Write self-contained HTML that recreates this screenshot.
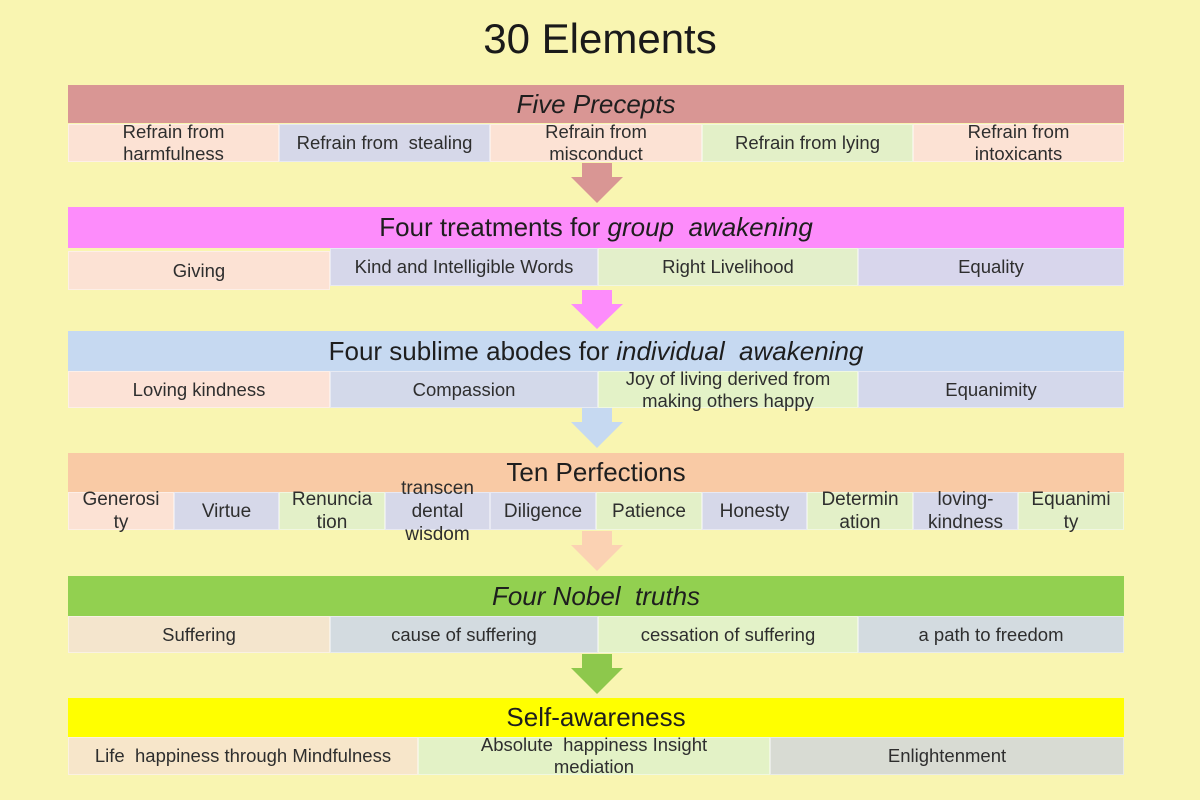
<!DOCTYPE html>
<html>
<head>
<meta charset="utf-8">
<style>
  html,body{margin:0;padding:0;}
  body{width:1200px;height:800px;background:#f9f5b1;position:relative;overflow:hidden;font-family:"Liberation Sans",sans-serif;}
  .t{position:absolute;left:0;width:1200px;top:15px;text-align:center;font-size:42px;color:#1a1a1a;line-height:48px;}
  .h{position:absolute;left:68px;width:1056px;display:flex;align-items:center;justify-content:center;font-size:26px;color:#1e1e1e;white-space:nowrap;}
  .c{position:absolute;display:flex;align-items:center;justify-content:center;text-align:center;font-size:18.5px;line-height:22px;color:#2e2e2e;white-space:nowrap;box-sizing:border-box;border:1px solid rgba(255,255,255,0.45);}
  .c10{font-size:19px;line-height:23px;}
  i{font-style:italic;}
  .pe{background:#fce2d4;}
  .la{background:#d6d8e9;}
  .gr{background:#e3f0c8;}
</style>
</head>
<body>
<div class="t">30 Elements</div>

<!-- Section 1 -->
<div class="h" style="top:85px;height:38px;background:#d99694;"><i>Five Precepts</i></div>
<div class="c pe" style="left:68px;top:124px;width:211px;height:38px;">Refrain from<br>harmfulness</div>
<div class="c la" style="left:279px;top:124px;width:211px;height:38px;">Refrain from&nbsp; stealing</div>
<div class="c pe" style="left:490px;top:124px;width:212px;height:38px;">Refrain from<br>misconduct</div>
<div class="c gr" style="left:702px;top:124px;width:211px;height:38px;">Refrain from lying</div>
<div class="c pe" style="left:913px;top:124px;width:211px;height:38px;">Refrain from<br>intoxicants</div>

<!-- Section 2 -->
<div class="h" style="top:207px;height:41px;background:#fd8cfb;">Four treatments for&nbsp;<i>group&nbsp; awakening</i></div>
<div class="c pe" style="left:68px;top:251px;width:262px;height:39px;">Giving</div>
<div class="c" style="left:330px;top:248px;width:268px;height:38px;background:#d6d7ea;">Kind and Intelligible Words</div>
<div class="c" style="left:598px;top:248px;width:260px;height:38px;background:#e3efca;">Right Livelihood</div>
<div class="c" style="left:858px;top:248px;width:266px;height:38px;background:#d8d6ec;">Equality</div>

<!-- Section 3 -->
<div class="h" style="top:331px;height:40px;background:#c6d9f1;">Four sublime abodes for&nbsp;<i>individual&nbsp; awakening</i></div>
<div class="c" style="left:68px;top:371px;width:262px;height:37px;background:#fce2d6;">Loving kindness</div>
<div class="c" style="left:330px;top:371px;width:268px;height:37px;background:#d3d9ea;">Compassion</div>
<div class="c" style="left:598px;top:371px;width:260px;height:37px;background:#e3f2c7;">Joy of living derived from<br>making others happy</div>
<div class="c" style="left:858px;top:371px;width:266px;height:37px;background:#d4d8eb;">Equanimity</div>

<!-- Section 4 -->
<div class="h" style="top:453px;height:39px;background:#f9caa5;">Ten Perfections</div>
<div class="c c10 pe" style="left:68px;top:492px;width:106px;height:38px;">Generosi<br>ty</div>
<div class="c c10 la" style="left:174px;top:492px;width:105px;height:38px;">Virtue</div>
<div class="c c10 gr" style="left:279px;top:492px;width:106px;height:38px;">Renuncia<br>tion</div>
<div class="c c10 la" style="left:385px;top:492px;width:105px;height:38px;">transcen<br>dental<br>wisdom</div>
<div class="c c10 la" style="left:490px;top:492px;width:106px;height:38px;">Diligence</div>
<div class="c c10 gr" style="left:596px;top:492px;width:106px;height:38px;">Patience</div>
<div class="c c10 la" style="left:702px;top:492px;width:105px;height:38px;">Honesty</div>
<div class="c c10 gr" style="left:807px;top:492px;width:106px;height:38px;">Determin<br>ation</div>
<div class="c c10 la" style="left:913px;top:492px;width:105px;height:38px;">loving-<br>kindness</div>
<div class="c c10 gr" style="left:1018px;top:492px;width:106px;height:38px;">Equanimi<br>ty</div>

<!-- Section 5 -->
<div class="h" style="top:576px;height:40px;background:#92d050;"><i>Four Nobel&nbsp; truths</i></div>
<div class="c" style="left:68px;top:616px;width:262px;height:37px;background:#f4e5cd;">Suffering</div>
<div class="c" style="left:330px;top:616px;width:268px;height:37px;background:#d3dbe0;">cause of suffering</div>
<div class="c" style="left:598px;top:616px;width:260px;height:37px;background:#e3f2c8;">cessation of suffering</div>
<div class="c" style="left:858px;top:616px;width:266px;height:37px;background:#d3dbe0;">a path to freedom</div>

<!-- Section 6 -->
<div class="h" style="top:698px;height:39px;background:#ffff00;">Self-awareness</div>
<div class="c" style="left:68px;top:737px;width:350px;height:38px;background:#f7e6ca;">Life&nbsp; happiness through Mindfulness</div>
<div class="c" style="left:418px;top:737px;width:352px;height:38px;background:#e3f2c6;">Absolute&nbsp; happiness Insight<br>mediation</div>
<div class="c" style="left:770px;top:737px;width:354px;height:38px;background:#d8dbd3;">Enlightenment</div>

<!-- Arrows -->
<svg style="position:absolute;left:0;top:0;" width="1200" height="800">
  <polygon points="582,163 612,163 612,177 623,177 597,203 571,177 582,177" fill="#d99694"/>
  <polygon points="582,290 612,290 612,304 623,304 597,329 571,304 582,304" fill="#fd8cfb"/>
  <polygon points="582,408 612,408 612,422 623,422 597,448 571,422 582,422" fill="#c6d9f1"/>
  <polygon points="582,531 612,531 612,545 623,545 597,571 571,545 582,545" fill="#fbd2b3"/>
  <polygon points="582,654 612,654 612,668 623,668 597,694 571,668 582,668" fill="#8dc84c"/>
</svg>
</body>
</html>
